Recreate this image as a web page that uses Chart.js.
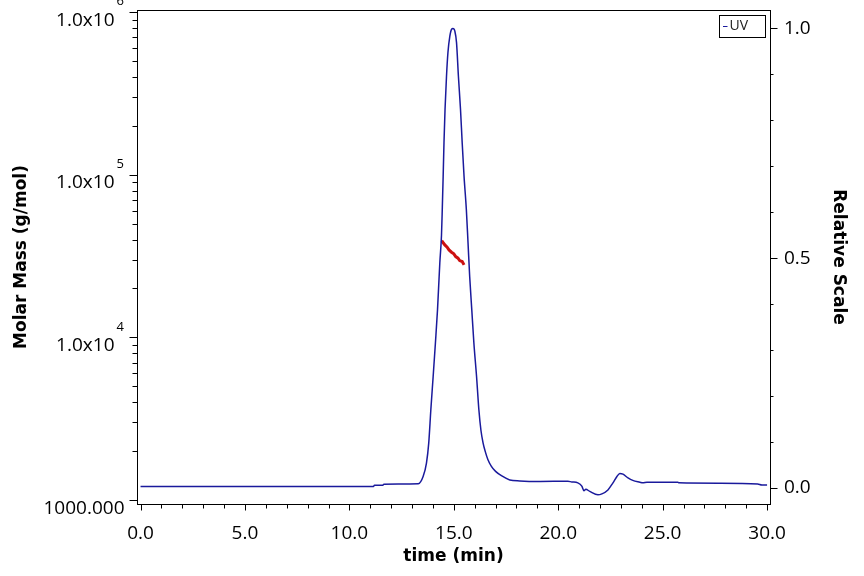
<!DOCTYPE html>
<html>
<head>
<meta charset="utf-8">
<script src="https://cdn.jsdelivr.net/npm/chart.js@4/dist/chart.umd.min.js"></script>
<style>
html,body{margin:0;padding:0;background:#fff;}
#wrap{width:864px;height:576px;position:relative;}
</style>
</head>
<body>
<div id="wrap"><canvas id="c" width="864" height="576"></canvas></div>
<script>
// ---------- data ----------
const uvTime = [0.0, 11.15, 11.2, 11.6, 11.65, 13.3, 13.53, 13.69, 13.80, 13.90, 14.01, 14.12, 14.22, 14.33, 14.41, 14.45, 14.49, 14.53, 14.58, 14.65, 14.72, 14.81, 14.89, 14.96, 15.05, 15.13, 15.22, 15.32, 15.40, 15.49, 15.60, 15.68, 15.76, 15.86, 15.96, 16.09, 16.20, 16.30, 16.40, 16.50, 16.63, 16.80, 17.00, 17.30, 17.68, 18.16, 19.12, 20.46, 20.65, 20.94, 21.13, 21.23, 21.32, 21.51, 21.90, 22.09, 22.38, 22.62, 22.81, 22.95, 23.10, 23.34, 23.57, 23.91, 24.05, 24.25, 25.73, 25.78, 27.74, 29.55, 29.75, 30.0];
const uvValue = [0.003, 0.003, 0.006, 0.006, 0.008, 0.009, 0.0246, 0.054, 0.098, 0.170, 0.242, 0.316, 0.388, 0.490, 0.550, 0.610, 0.678, 0.752, 0.824, 0.896, 0.948, 0.983, 0.998, 1.000, 0.994, 0.969, 0.896, 0.824, 0.752, 0.678, 0.606, 0.534, 0.460, 0.388, 0.316, 0.242, 0.170, 0.125, 0.098, 0.080, 0.062, 0.047, 0.036, 0.026, 0.0174, 0.0153, 0.0142, 0.0146, 0.013, 0.011, 0.004, -0.006, -0.003, -0.0076, -0.015, -0.013, -0.0044, 0.011, 0.025, 0.0316, 0.030, 0.0218, 0.0163, 0.0124, 0.011, 0.0124, 0.0124, 0.011, 0.0102, 0.0087, 0.0065, 0.0065];

const mmTime  = [14.42, 14.57, 14.68, 14.77, 14.89, 15.00, 15.09, 15.20, 15.28, 15.40, 15.49];
const mmValue = [39300, 37070, 35880, 34510, 33420, 32640, 31420, 30710, 29700, 29300, 27930];

const xTickValues   = [0,1,2,3,4,5,6,7,8,9,10,11,12,13,14,15,16,17,18,19,20,21,22,23,24,25,26,27,28,29,30];
const xLabelValues  = [0, 5, 10, 15, 20, 25, 30];
const xTickLabels   = ['0.0','5.0','10.0','15.0','20.0','25.0','30.0'];

const rTickValues   = [0,0.1,0.2,0.3,0.4,0.5,0.6,0.7,0.8,0.9,1.0];
const rLabelValues  = [0, 0.5, 1.0];
const rTickLabels   = ['0.0','0.5','1.0'];

const lMinorTicks   = [2000,3000,4000,5000,6000,7000,8000,9000,
                       20000,30000,40000,50000,60000,70000,80000,90000,
                       200000,300000,400000,500000,600000,700000,800000,900000];
const lMajorTicks   = [1000, 10000, 100000, 1000000];
const lTickBase     = ['1000.000', '1.0x10', '1.0x10', '1.0x10'];
const lTickExp      = ['', '4', '5', '6'];

const seriesNames = ['UV', 'Molar Mass'];

// ---------- styling ----------
const UV_COLOR = '#1a1a9c';
const MM_COLOR = '#cc1010';
const TICK_FONT = {family: 'Open Sans', size: 19};
const TITLE_FONT = {family: 'DejaVu Sans', size: 17, weight: 'bold'};

function fixBox(w, h) {
  return s => {
    if (w !== null) s.width = w;
    if (h !== null) s.height = h;
    s.paddingTop = 0; s.paddingBottom = 0; s.paddingLeft = 0; s.paddingRight = 0;
  };
}

const decor = {
  id: 'decor',
  afterDraw(chart) {
    const {ctx, chartArea: a, scales} = chart;
    const sx = scales.x, sl = scales.yL, sr = scales.yR;
    ctx.save();
    ctx.strokeStyle = '#000';
    ctx.lineWidth = 1;
    // top frame line
    ctx.beginPath();
    ctx.moveTo(a.left, Math.round(a.top) + 0.5);
    ctx.lineTo(a.right + 1, Math.round(a.top) + 0.5);
    ctx.stroke();
    // x tick marks
    const yb = Math.round(a.bottom) + 0.5;
    xTickValues.forEach(v => {
      const px = Math.round(sx.getPixelForValue(v)) + 0.5;
      const len = xLabelValues.includes(v) ? 6 : 4;
      ctx.beginPath(); ctx.moveTo(px, yb); ctx.lineTo(px, yb + len); ctx.stroke();
    });
    // right tick marks
    const xr = Math.round(a.right) + 0.5;
    rTickValues.forEach(v => {
      const py = Math.round(sr.getPixelForValue(v)) + 0.5;
      const len = rLabelValues.includes(v) ? 7 : 3;
      ctx.beginPath(); ctx.moveTo(xr, py); ctx.lineTo(xr + len, py); ctx.stroke();
    });
    // left tick marks
    const xl = Math.round(a.left) + 0.5;
    lMinorTicks.forEach(v => {
      const py = Math.round(sl.getPixelForValue(v)) + 0.5;
      ctx.beginPath(); ctx.moveTo(xl - 5, py); ctx.lineTo(xl, py); ctx.stroke();
    });
    lMajorTicks.forEach(v => {
      const py = Math.round(sl.getPixelForValue(v)) + 0.5;
      ctx.beginPath(); ctx.moveTo(xl - 8, py); ctx.lineTo(xl, py); ctx.stroke();
    });
    // left labels with superscript exponents
    ctx.fillStyle = '#000';
    ctx.textBaseline = 'middle';
    lMajorTicks.forEach((v, i) => {
      const py = sl.getPixelForValue(v);
      ctx.font = '19px "Open Sans"';
      ctx.textAlign = 'right';
      if (lTickExp[i]) {
        ctx.fillText(lTickBase[i], 114.5, py + 8);
        ctx.font = '13px "Open Sans"';
        ctx.textAlign = 'left';
        ctx.fillText(lTickExp[i], 116.5, py - 10.5);
      } else {
        ctx.fillText(lTickBase[i], 124.5, py + 9);
      }
    });
    // legend box
    ctx.strokeStyle = '#000';
    ctx.strokeRect(719.5, 15.5, 46, 22);
    ctx.strokeStyle = UV_COLOR;
    ctx.beginPath(); ctx.moveTo(723, 26.5); ctx.lineTo(727.5, 26.5); ctx.stroke();
    ctx.fillStyle = '#222';
    ctx.font = '14px "Open Sans"';
    ctx.textAlign = 'left';
    ctx.textBaseline = 'middle';
    ctx.fillText(chart.data.datasets[0].label, 729.5, 26.5);
    ctx.restore();
  }
};

new Chart(document.getElementById('c'), {
  type: 'line',
  data: {
    datasets: [
      {
        label: seriesNames[0],
        data: uvTime.map((t, i) => ({x: t, y: uvValue[i]})),
        xAxisID: 'x', yAxisID: 'yR',
        borderColor: UV_COLOR, borderWidth: 1.5,
        pointRadius: 0, fill: false,
        cubicInterpolationMode: 'monotone'
      },
      {
        label: seriesNames[1],
        data: mmTime.map((t, i) => ({x: t, y: mmValue[i]})),
        xAxisID: 'x', yAxisID: 'yL',
        borderColor: MM_COLOR, borderWidth: 3,
        pointRadius: 0, fill: false, tension: 0
      }
    ]
  },
  options: {
    responsive: false,
    animation: false,
    layout: {padding: {top: 10, left: 0, right: 0, bottom: 0}},
    plugins: {legend: {display: false}, tooltip: {enabled: false}},
    scales: {
      x: {
        type: 'linear', position: 'bottom', min: -0.17, max: 30.14,
        afterFit: fixBox(null, 72),
        afterBuildTicks: s => { s.ticks = xLabelValues.map(v => ({value: v})); },
        ticks: {
          autoSkip: false, maxRotation: 0, padding: 18, color: '#000', font: TICK_FONT,
          callback: v => { const i = xLabelValues.indexOf(v); return i >= 0 ? xTickLabels[i] : ''; }
        },
        grid: {display: false, drawTicks: false},
        border: {display: true, color: '#000', width: 1},
        title: {display: true, text: 'time (min)', color: '#000', font: TITLE_FONT, padding: {top: 0, bottom: 9}}
      },
      yL: {
        type: 'logarithmic', position: 'left', min: 945, max: 1032000,
        afterFit: fixBox(137, null),
        ticks: {display: false},
        grid: {display: false, drawTicks: false},
        border: {display: true, color: '#000', width: 1},
        title: {display: true, text: 'Molar Mass (g/mol)', color: '#000', font: TITLE_FONT, padding: {top: 11, bottom: 0}}
      },
      yR: {
        type: 'linear', position: 'right', min: -0.035, max: 1.04,
        afterFit: fixBox(94, null),
        afterBuildTicks: s => { s.ticks = rLabelValues.map(v => ({value: v})); },
        ticks: {
          autoSkip: false, padding: 14, color: '#000', font: TICK_FONT,
          callback: v => { const i = rLabelValues.indexOf(v); return i >= 0 ? rTickLabels[i] : ''; }
        },
        grid: {display: false, drawTicks: false},
        border: {display: true, color: '#000', width: 1},
        title: {display: true, text: 'Relative Scale', color: '#000', font: TITLE_FONT, padding: {top: 15, bottom: 0}}
      }
    }
  },
  plugins: [decor]
});
</script>
</body>
</html>
